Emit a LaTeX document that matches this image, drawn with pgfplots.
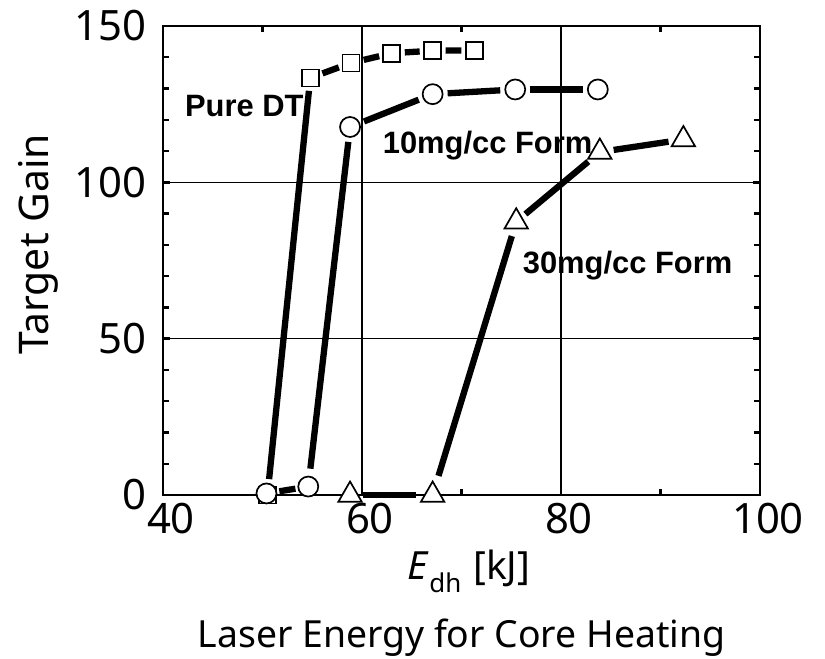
\documentclass[border=0pt]{standalone}
\usepackage{pgfplots}
\pgfplotsset{compat=1.18}
\usepackage{fontspec}
\setmainfont{Noto Sans}
\newfontfamily\annfont{Liberation Sans}

\pgfplotsset{
  seg/.style 2 args={black, line width=6.3bp, no marks, shorten <=#1, shorten >=#2},
  mk/.style={only marks, black,
    mark options={draw=black, fill=white, line width=1.7bp}},
}

\begin{document}
\begin{tikzpicture}
\begin{axis}[
  at={(0,0)}, anchor=south west,
  scale only axis, width=597bp, height=469bp,
  xmin=40, xmax=100, ymin=0, ymax=150,
  xtick={40,60,80,100}, ytick={0,50,100,150},
  minor xtick={50,70,90},
  minor ytick={10,20,30,40,60,70,80,90,110,120,130,140},
  tick align=inside, major tick length=7bp, minor tick length=6bp,
  xmajorgrids, ymajorgrids,
  major grid style={line width=1.3bp, black},
  axis line style={line width=2.8bp, black},
  every tick/.style={line width=2.4bp, black},
  /pgf/number format/assume math mode=true,
  ticklabel style={font=\fontsize{42}{42}\selectfont, inner sep=0pt},
  xticklabel style={anchor=north, yshift=-8bp, xshift=8bp},
  yticklabel style={anchor=east, xshift=-16bp},
  clip=false,
  xlabel={\textit{E}\raisebox{-13bp}{\fontsize{26}{26}\selectfont dh}\hspace{12bp}[kJ]},
  xlabel style={at={(axis description cs:0.5126,-0.181)}, anchor=base, inner sep=0pt,
    font=\fontsize{39}{39}\selectfont},
  ylabel={Target Gain},
  ylabel style={at={(axis description cs:-0.2094,0.534)}, anchor=center, inner sep=0pt,
    rotate=0, font=\fontsize{41}{41}\selectfont},
]
% Pure DT: line segments, each stopping short of the marks
\addplot[seg={16bp}{13bp}] coordinates {(50.5,0) (54.8,133.4)};
\addplot[seg={13bp}{13bp}] coordinates {(54.8,133.4) (58.9,138.2)};
\addplot[seg={13bp}{13bp}] coordinates {(58.9,138.2) (63.0,141.3)};
\addplot[seg={13bp}{13bp}] coordinates {(63.0,141.3) (67.1,142.1)};
\addplot[seg={13bp}{13bp}] coordinates {(67.1,142.1) (71.3,142.2)};
% 10 mg/cc foam
\addplot[seg={13bp}{13bp}] coordinates {(50.4,0.5) (54.6,2.7)};
\addplot[seg={18bp}{15bp}] coordinates {(54.6,2.7) (58.8,117.7)};
\addplot[seg={15bp}{15bp}] coordinates {(58.8,117.7) (67.1,128.2)};
\addplot[seg={15bp}{15bp}] coordinates {(67.1,128.2) (75.4,129.7)};
\addplot[seg={15bp}{15bp}] coordinates {(75.4,129.7) (83.7,129.7)};
% 30 mg/cc foam
\addplot[seg={13bp}{17bp}] coordinates {(58.8,0) (67.1,0)};
\addplot[seg={20bp}{15bp}] coordinates {(67.1,0) (75.5,87.4)};
\addplot[seg={12bp}{15bp}] coordinates {(75.5,87.4) (83.9,109.7)};
\addplot[seg={14bp}{15bp}] coordinates {(83.9,109.7) (92.3,113.7)};
% marks
\addplot[mk, mark=square*, mark size=8.5bp] coordinates
  {(50.5,0) (54.8,133.4) (58.9,138.2) (63.0,141.3) (67.1,142.1) (71.3,142.2)};
\addplot[mk, mark=*, mark size=10bp] coordinates
  {(50.4,0.5) (54.6,2.7) (58.8,117.7) (67.1,128.2) (75.4,129.7) (83.7,129.7)};
\addplot[mk, mark=triangle*, mark size=13.5bp] coordinates
  {(58.8,0) (67.1,0) (75.5,87.4) (83.9,109.7) (92.3,113.7)};

\node[anchor=base west, inner sep=0pt, font=\annfont\bfseries\fontsize{31}{31}\selectfont]
  at (axis cs:42.2,121) {Pure DT};
\node[anchor=base west, inner sep=0pt, font=\annfont\bfseries\fontsize{31}{31}\selectfont]
  at (axis cs:62.08,109.3) {10mg/cc Form};
\node[anchor=base west, inner sep=0pt, font=\annfont\bfseries\fontsize{31}{31}\selectfont]
  at (axis cs:76.15,70.9) {30mg/cc Form};
\node[anchor=base, inner sep=0pt, font=\fontsize{37.5}{37.5}\selectfont]
  at (axis description cs:0.5,-0.326) {Laser Energy for Core Heating};
\end{axis}
\pgfresetboundingbox
\useasboundingbox (-163bp,-164bp) rectangle (662bp,495bp);
\end{tikzpicture}
\end{document}
